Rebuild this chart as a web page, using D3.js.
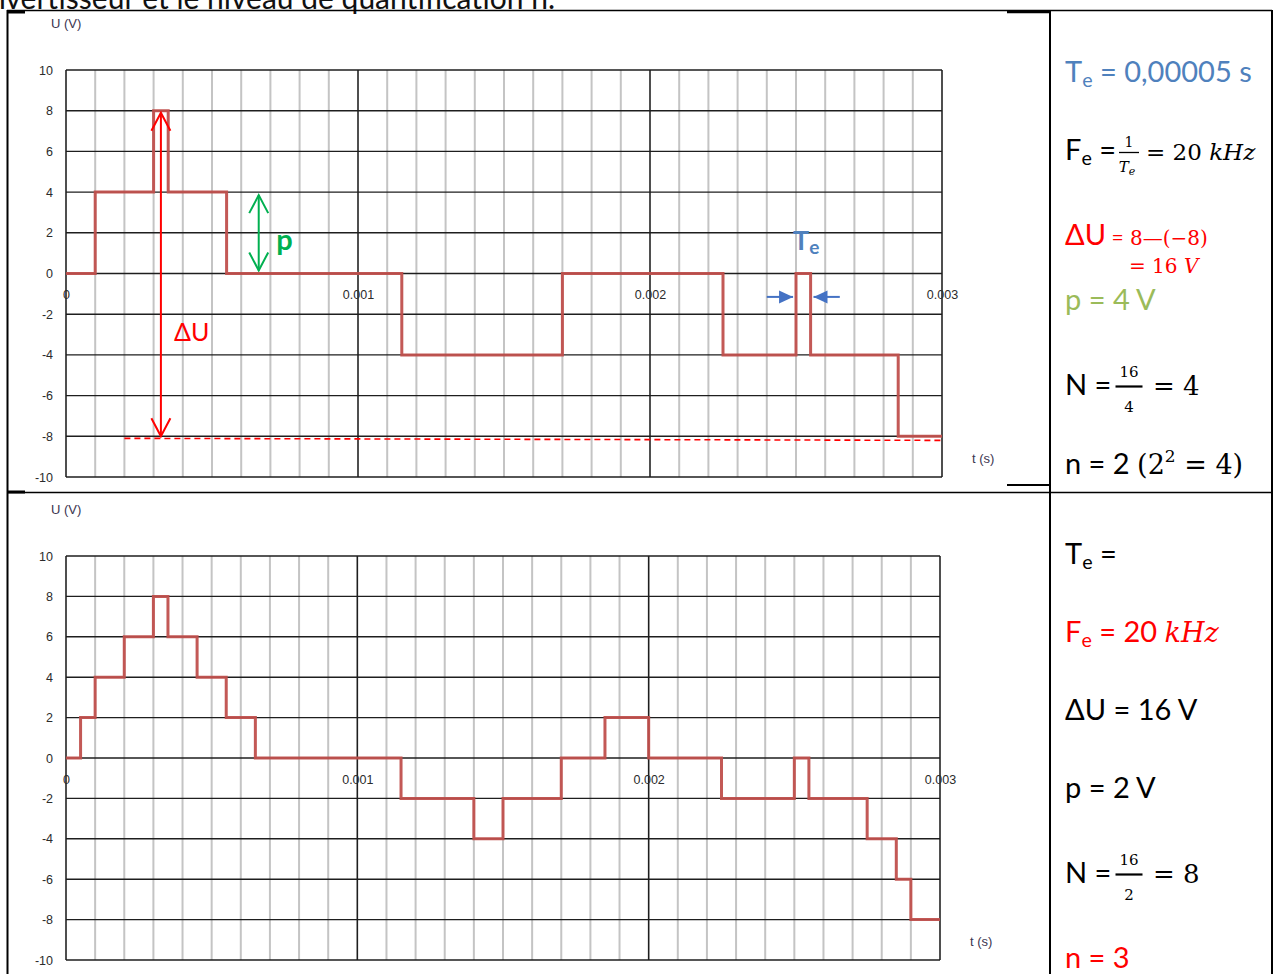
<!DOCTYPE html>
<html>
<head>
<meta charset="utf-8">
<script src="https://cdn.jsdelivr.net/npm/d3@7"></script>
<style>
body { margin: 0; background: #fff; }
svg { display: block; }
.tick text { font-family: "Liberation Sans", Arial, sans-serif; font-size: 12.5px; fill: #2b2b2b; }
</style>
</head>
<body>
<svg id="page" width="1278" height="974"></svg>
<script>
// axis ticks shared by both charts
var xTicks = [0, 0.001, 0.002, 0.003];
var yTicks = [-10, -8, -6, -4, -2, 0, 2, 4, 6, 8, 10];

// quantized signal, 4 V step (time where each level starts, last point closes the trace)
var times1  = [0, 0.0001, 0.0003, 0.00035, 0.00055, 0.00115, 0.0017, 0.00225, 0.0025, 0.00255, 0.00285, 0.003];
var values1 = [0, 4,      8,      4,       0,       -4,      0,      -4,      0,      -4,      -8,      -8];

// quantized signal, 2 V step
var times2  = [0, 0.00005, 0.0001, 0.0002, 0.0003, 0.00035, 0.00045, 0.00055, 0.00065, 0.00115, 0.0014, 0.0015, 0.0017, 0.00185, 0.002, 0.00225, 0.0025, 0.00255, 0.00275, 0.00285, 0.0029, 0.003];
var values2 = [0, 2,       4,      6,      8,      6,       4,       2,       0,       -2,      -4,     -2,     0,      2,       0,     -2,      0,      -2,      -4,      -6,      -8,     -8];

var svg = d3.select("#page");
var sans = "Lato, 'Open Sans', sans-serif";
var serif = "'DejaVu Serif', 'Liberation Serif', serif";
var colorSignal = "#C0504D";

var defs = svg.append("defs");
function openHead(id, color) {
    defs.append("marker")
        .attr("id", id)
        .attr("viewBox", "-20 -11 22 22")
        .attr("refX", 0).attr("refY", 0)
        .attr("markerWidth", 22).attr("markerHeight", 22)
        .attr("markerUnits", "userSpaceOnUse")
        .attr("orient", "auto-start-reverse")
        .append("path")
        .attr("d", "M-18,-9.5 L0,0 L-18,9.5")
        .style("fill", "none")
        .style("stroke", color)
        .style("stroke-width", 2);
}
openHead("headRed", "#FF0000");
openHead("headGreen", "#00B050");
defs.append("marker")
    .attr("id", "headBlue")
    .attr("viewBox", "-14 -7 15 14")
    .attr("refX", 0).attr("refY", 0)
    .attr("markerWidth", 15).attr("markerHeight", 14)
    .attr("markerUnits", "userSpaceOnUse")
    .attr("orient", "auto")
    .append("path")
    .attr("d", "M-14,-6.5 L0,0 L-14,6.5 Z")
    .style("fill", "#4472C4");

// sentence above the table, only its lower edge shows (as in the source page)
svg.append("text")
    .attr("x", 555).attr("y", 9)
    .attr("text-anchor", "end")
    .style("font-family", sans).style("font-size", "30px").style("fill", "#111")
    .text("convertisseur et le niveau de quantification n.");

function drawChart(opt) {
    var x = d3.scaleLinear().domain([0, 0.003]).range([opt.left, opt.right]);
    var y = d3.scaleLinear().domain([-10, 10]).range([opt.bottom, opt.top]);
    var g = svg.append("g");

    g.selectAll(".minor").data(x.ticks(30)).join("line")
        .attr("x1", d => x(d)).attr("x2", d => x(d))
        .attr("y1", y(10)).attr("y2", y(-10))
        .style("stroke", "#C4C4C4").style("stroke-width", 2);

    g.selectAll(".hgrid").data(yTicks).join("line")
        .attr("x1", x(0)).attr("x2", x(0.003))
        .attr("y1", d => y(d)).attr("y2", d => y(d))
        .style("stroke", "#1e1e1e").style("stroke-width", 1.4);

    g.selectAll(".major").data(xTicks).join("line")
        .attr("x1", d => x(d)).attr("x2", d => x(d))
        .attr("y1", y(10)).attr("y2", y(-10))
        .style("stroke", "#1e1e1e").style("stroke-width", 1.4);

    var yAxis = g.append("g")
        .attr("transform", "translate(" + x(0) + ",0)")
        .call(d3.axisLeft(y).tickValues(yTicks).tickSize(0).tickPadding(13)
            .tickFormat(d => String(d)));
    yAxis.select(".domain").remove();

    var xAxis = g.append("g")
        .attr("transform", "translate(0," + y(0) + ")")
        .call(d3.axisBottom(x).tickValues(xTicks).tickSize(0).tickPadding(17)
            .tickFormat(d => d === 0 ? "0" : d3.format(".3f")(d)));
    xAxis.select(".domain").remove();

    g.append("text")
        .attr("x", opt.left - 15).attr("y", opt.top - 42)
        .style("font-family", "'Liberation Sans', Arial, sans-serif")
        .style("font-size", "13px").style("fill", "#3b3550")
        .text("U (V)");
    g.append("text")
        .attr("x", x(0.003) + 30).attr("y", y(-9.3))
        .style("font-family", "'Liberation Sans', Arial, sans-serif")
        .style("font-size", "13px").style("fill", "#3b3550")
        .text("t (s)");

    var line = d3.line()
        .x(d => x(d[0]))
        .y(d => y(d[1]))
        .curve(d3.curveStepAfter);
    g.append("path")
        .datum(d3.zip(opt.times, opt.values))
        .attr("d", line)
        .style("fill", "none")
        .style("stroke", colorSignal)
        .style("stroke-width", 3)
        .style("opacity", 0.95);

    return { g: g, x: x, y: y };
}

// ---- top chart with annotations
var c1 = drawChart({ left: 66, right: 942, top: 70, bottom: 477, times: times1, values: values1 });

c1.g.append("line")
    .attr("x1", c1.x(0.0002)).attr("x2", c1.x(0.003))
    .attr("y1", c1.y(-8.1)).attr("y2", c1.y(-8.2))
    .style("stroke", "#FF0000").style("stroke-width", 1.6)
    .style("stroke-dasharray", "6,4");

c1.g.append("line")
    .attr("x1", c1.x(0.000325)).attr("x2", c1.x(0.000325))
    .attr("y1", c1.y(7.9)).attr("y2", c1.y(-8))
    .style("stroke", "#FF0000").style("stroke-width", 2)
    .attr("marker-start", "url(#headRed)")
    .attr("marker-end", "url(#headRed)");
c1.g.append("text")
    .attr("x", c1.x(0.00037)).attr("y", c1.y(-3.3))
    .style("font-family", sans).style("font-size", "25px").style("fill", "#FF0000")
    .text("ΔU");

c1.g.append("line")
    .attr("x1", c1.x(0.00066)).attr("x2", c1.x(0.00066))
    .attr("y1", c1.y(3.85)).attr("y2", c1.y(0.15))
    .style("stroke", "#00B050").style("stroke-width", 2)
    .attr("marker-start", "url(#headGreen)")
    .attr("marker-end", "url(#headGreen)");
c1.g.append("text")
    .attr("x", c1.x(0.00072)).attr("y", c1.y(1.15))
    .style("font-family", sans).style("font-size", "29px").style("font-weight", "bold")
    .style("fill", "#00B050")
    .text("p");

c1.g.append("line")
    .attr("x1", c1.x(0.0024)).attr("x2", c1.x(0.00249))
    .attr("y1", c1.y(-1.15)).attr("y2", c1.y(-1.15))
    .style("stroke", "#4472C4").style("stroke-width", 2)
    .attr("marker-end", "url(#headBlue)");
c1.g.append("line")
    .attr("x1", c1.x(0.00265)).attr("x2", c1.x(0.00256))
    .attr("y1", c1.y(-1.15)).attr("y2", c1.y(-1.15))
    .style("stroke", "#4472C4").style("stroke-width", 2)
    .attr("marker-end", "url(#headBlue)");
var teMark = c1.g.append("text")
    .attr("x", c1.x(0.00249)).attr("y", c1.y(1.15))
    .style("font-family", sans).style("font-weight", "bold").style("fill", "#4F81BD");
teMark.append("tspan").style("font-size", "27px").text("T");
teMark.append("tspan").style("font-size", "19px").attr("dy", 4).text("e");

// ---- bottom chart
drawChart({ left: 66, right: 940, top: 556, bottom: 960, times: times2, values: values2 });

// ---- table borders
var borders = [
    [7.5, 10, 7.5, 974, 2], [7, 10.5, 1272, 10.5, 1.5], [1050, 10, 1050, 974, 2],
    [1272, 10, 1272, 974, 2], [7, 492.5, 1272, 492.5, 1.5],
    [7, 12, 25, 12, 3], [7, 492, 25, 492, 3], [1007, 12, 1050, 12, 2.5], [1007, 485, 1050, 485, 2]
];
svg.selectAll(".border").data(borders).join("line")
    .attr("x1", d => d[0]).attr("y1", d => d[1])
    .attr("x2", d => d[2]).attr("y2", d => d[3])
    .style("stroke", "#000").style("stroke-width", d => d[4]);

// ---- right column text
function txt(x, y, color, family, size) {
    return svg.append("text")
        .attr("x", x).attr("y", y)
        .style("fill", color).style("font-family", family).style("font-size", size + "px");
}
function withSub(t, main, sub, rest, size) {
    t.append("tspan").text(main);
    t.append("tspan").style("font-size", (size * 0.68) + "px").attr("dy", 5).text(sub);
    if (rest) t.append("tspan").attr("dy", -5).text(rest);
    return t;
}
function fraction(cx, yNum, yBar, yDen, num, den, color, w) {
    txt(cx, yNum, color, serif, 15).attr("text-anchor", "middle").text(num);
    svg.append("line")
        .attr("x1", cx - w / 2).attr("x2", cx + w / 2)
        .attr("y1", yBar).attr("y2", yBar)
        .style("stroke", color).style("stroke-width", 2.2);
    return txt(cx, yDen, color, serif, 15).attr("text-anchor", "middle").text(den);
}

var X0 = 1065;
var blue = "#4F81BD", red = "#FF0000", green = "#9BBB59", black = "#000";

withSub(txt(X0, 82, blue, sans, 29), "T", "e", " = 0,00005 s", 29);

withSub(txt(X0, 160, black, sans, 29), "F", "e", " =", 29);
txt(1129, 147, black, serif, 14).attr("text-anchor", "middle").text("1");
svg.append("line").attr("x1", 1119).attr("x2", 1139).attr("y1", 152.5).attr("y2", 152.5)
    .style("stroke", black).style("stroke-width", 1.3);
var teDen = txt(1127, 172, black, serif, 15).attr("text-anchor", "middle").style("font-style", "italic");
teDen.append("tspan").text("T");
teDen.append("tspan").style("font-size", "11px").attr("dy", 3).text("e");
var fe = txt(1146, 160, black, serif, 23);
fe.append("tspan").text("= 20 ");
fe.append("tspan").style("font-style", "italic").text("kHz");

var du = txt(X0, 245, red, sans, 29);
du.append("tspan").text("ΔU");
du.append("tspan").style("font-size", "21px").text(" = ");
txt(1130, 245, red, serif, 20).text("8—(−8)");
var du2 = txt(1129, 273, red, serif, 20);
du2.append("tspan").text("= 16 ");
du2.append("tspan").style("font-style", "italic").text("V");

txt(X0, 310, green, sans, 29).text("p = 4 V");

txt(X0, 395, black, sans, 29).text("N =");
fraction(1129, 377, 386.5, 412, "16", "4", black, 27);
txt(1153, 395, black, serif, 26).text("= 4");

var n1 = txt(X0, 474, black, sans, 29);
n1.append("tspan").text("n = 2 ");
n1.append("tspan").style("font-family", serif).style("font-size", "27px").text("(2");
n1.append("tspan").style("font-family", serif).style("font-size", "17px").attr("dy", -12).text("2");
n1.append("tspan").style("font-family", serif).style("font-size", "27px").attr("dy", 12).text(" = 4)");

withSub(txt(X0, 564, black, sans, 29), "T", "e", " =", 29);

var fe2 = withSub(txt(X0, 642, red, sans, 29), "F", "e", " = 20 ", 29);
fe2.append("tspan").style("font-family", serif).style("font-style", "italic").style("font-size", "27px").text("kHz");

txt(X0, 720, black, sans, 29).text("ΔU = 16 V");
txt(X0, 798, black, sans, 29).text("p = 2 V");

txt(X0, 883, black, sans, 29).text("N =");
fraction(1129, 865, 874.5, 900, "16", "2", black, 27);
txt(1153, 883, black, serif, 26).text("= 8");

txt(X0, 968, red, sans, 29).text("n = 3");
</script>
</body>
</html>
